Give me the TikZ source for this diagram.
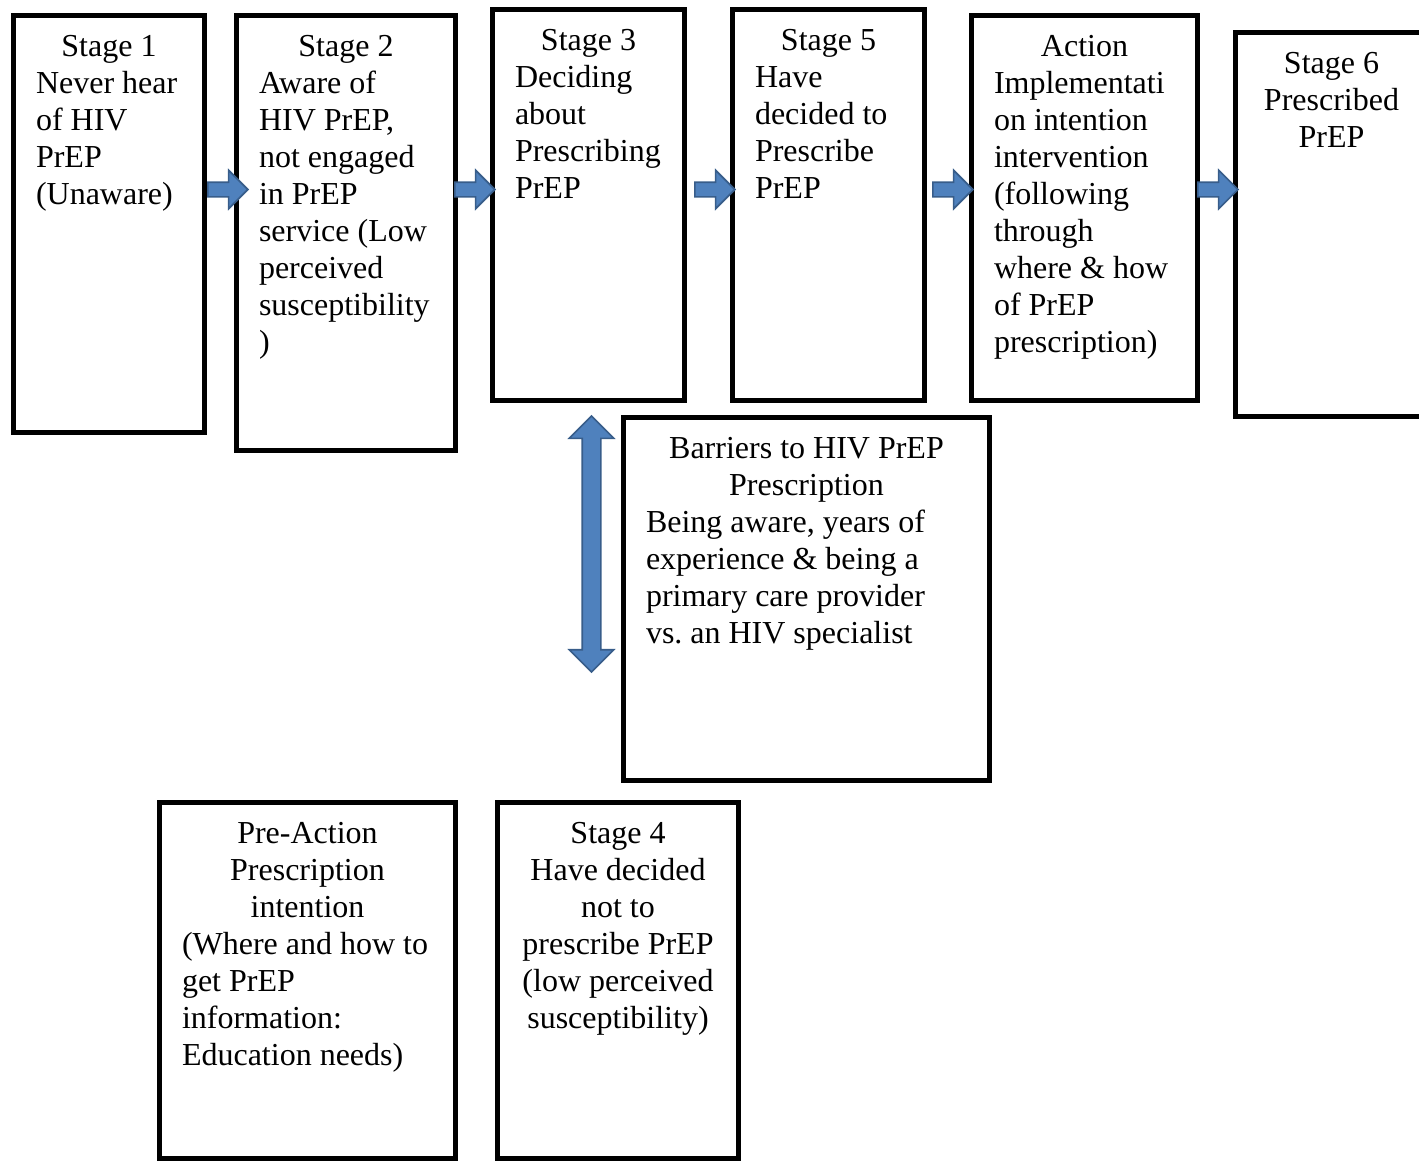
\documentclass[tikz,border=0pt]{standalone}
\usepackage{fontspec}
\setmainfont{Liberation Serif}
\usetikzlibrary{shapes.arrows}
\definecolor{Arrow_Blue}{HTML}{4F81BD}
\definecolor{Arrow_Edge}{HTML}{385D8A}
\newcommand{\midline}[1]{\mbox{}\hfill#1\hfill\mbox{}}
\setlength{\parindent}{0pt}
\frenchspacing

\begin{document}
\begin{tikzpicture}[x=0.5pt, y=-0.5pt,
    stagebox/.style={draw=black, line width=2.4pt, rectangle, inner sep=0pt},
    stagetext/.style={anchor=north, inner sep=0pt, align=flush left, font=\fontsize{16}{18.5}\selectfont},
    centertext/.style={anchor=north, inner sep=0pt, align=center, font=\fontsize{16}{18.5}\selectfont},
    flowarrow/.style={single arrow, draw=Arrow_Edge, fill=Arrow_Blue, line width=0.8pt,
        inner xsep=0pt, inner ysep=3.25pt, single arrow head extend=6pt,
        minimum height=20pt, minimum width=0pt, anchor=tip},
    twowayarrow/.style={double arrow, draw=Arrow_Edge, fill=Arrow_Blue, line width=0.8pt,
        inner xsep=0pt, inner ysep=4.25pt, double arrow head extend=6.5pt,
        minimum height=128pt, minimum width=0pt, rotate=90}]
    \useasboundingbox (0,0) rectangle (1419,1161);

    % Top row of stages
    \node[stagebox, minimum width=95.6pt, minimum height=208.6pt] (s1) at (109,224) {};
    \node[stagebox, minimum width=109.6pt, minimum height=217.6pt] (s2) at (346,233) {};
    \node[stagebox, minimum width=96.1pt, minimum height=195.6pt] (s3) at (588.5,205) {};
    \node[stagebox, minimum width=96.1pt, minimum height=195.6pt] (s5) at (828.5,205) {};
    \node[stagebox, minimum width=113.1pt, minimum height=192.6pt] (act) at (1084.5,208) {};
    \node[stagebox, minimum width=96.1pt, minimum height=192.1pt] (s6) at (1331.5,224.5) {};

    % Barriers and bottom row
    \node[stagebox, minimum width=183.1pt, minimum height=181.6pt] (bar) at (806.5,599) {};
    \node[stagebox, minimum width=148.1pt, minimum height=178.1pt] (pre) at (307.5,980.5) {};
    \node[stagebox, minimum width=120.6pt, minimum height=178.1pt] (s4) at (618,980.5) {};

    % Box texts
    \node[stagetext, text width=73pt] (s1text) at ([yshift=-11pt]s1.north)
        {\midline{Stage 1}\\Never hear\\of HIV\\PrEP\\(Unaware)};
    \node[stagetext, text width=87pt] (s2text) at ([yshift=-11pt]s2.north)
        {\midline{Stage 2}\\Aware of\\HIV PrEP,\\not engaged\\in PrEP\\service (Low\\perceived\\susceptibility\\)};
    \node[stagetext, text width=73.5pt] (s3text) at ([yshift=-11pt]s3.north)
        {\midline{Stage 3}\\Deciding\\about\\Prescribing\\PrEP};
    \node[stagetext, text width=73.5pt] (s5text) at ([yshift=-11pt]s5.north)
        {\midline{Stage 5}\\Have\\decided to\\Prescribe\\PrEP};
    \node[stagetext, text width=90.5pt] (acttext) at ([yshift=-11pt]act.north)
        {\midline{Action}\\Implementati\\on intention\\intervention\\(following\\through\\where \& how\\of PrEP\\prescription)};
    \node[centertext] (s6text) at ([yshift=-11pt]s6.north) {Stage 6\\Prescribed\\PrEP};
    \node[stagetext, text width=160.5pt] (bartext) at ([yshift=-11pt]bar.north)
        {\midline{Barriers to HIV PrEP}\\\midline{Prescription}\\Being aware, years of\\experience \& being a\\primary care provider\\vs. an HIV specialist};
    \node[stagetext, text width=125.5pt] (pretext) at ([yshift=-11pt]pre.north)
        {\midline{Pre-Action}\\\midline{Prescription}\\\midline{intention}\\(Where and how to\\get PrEP\\information:\\Education needs)};
    \node[centertext] (s4text) at ([yshift=-11pt]s4.north)
        {Stage 4\\Have decided\\not to\\prescribe PrEP\\(low perceived\\susceptibility)};

    % Flow arrows
    \coordinate (flow) at (0,189.5);
    \path (s1.east |- flow) -- (s2.west |- flow) node[flowarrow, pos=1, xshift=7.5pt] (a12) {};
    \path (s2.east |- flow) -- (s3.west |- flow) node[flowarrow, pos=1, xshift=3pt] (a23) {};
    \path (s3.east |- flow) -- (s5.west |- flow) node[flowarrow, pos=1, xshift=3pt] (a35) {};
    \path (s5.east |- flow) -- (act.west |- flow) node[flowarrow, pos=1, xshift=2.5pt] (a5act) {};
    \path (act.east |- flow) -- (s6.west |- flow) node[flowarrow, pos=1, xshift=3pt] (aact6) {};

    % Two-way arrow beside the barriers
    \node[twowayarrow] (barrow) at (591.5,544) {};
\end{tikzpicture}
\end{document}
